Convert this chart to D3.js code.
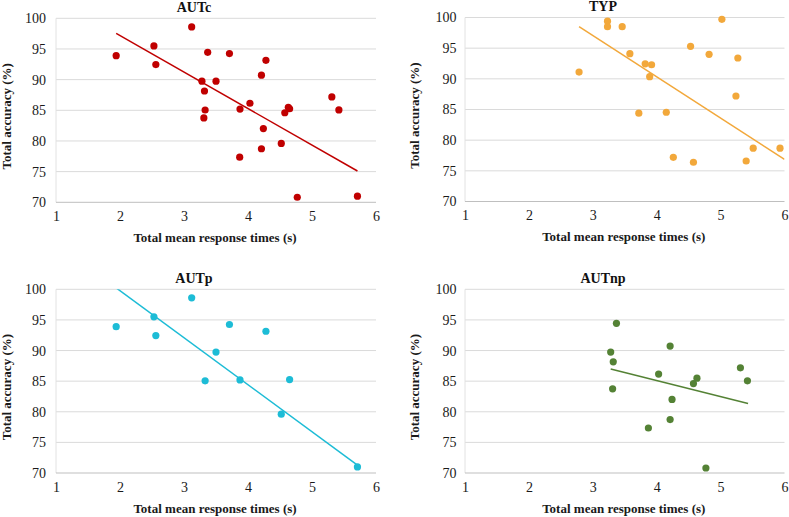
<!DOCTYPE html>
<html>
<head>
<meta charset="utf-8">
<script src="https://cdn.jsdelivr.net/npm/d3@7"></script>
<style>
  html, body { margin: 0; padding: 0; background: #fff; }
  svg { display: block; }
  svg text { font-family: "Liberation Serif", "Tinos", "Times New Roman", "DejaVu Serif", serif; }
</style>
</head>
<body>
<svg id="chart" width="789" height="517"></svg>
<script>
// ---- data ----
const xTicks = [1, 2, 3, 4, 5, 6];
const yTicks = [70, 75, 80, 85, 90, 95, 100];
const xLabel = "Total mean response times (s)";
const yLabel = "Total accuracy (%)";

const autpX = [1.94, 2.53, 2.56, 3.12, 3.50, 3.33, 3.71, 3.875, 4.28, 4.65, 4.52, 5.71];
const autpY = [93.9, 95.5, 92.45, 98.6, 89.75, 85.05, 94.25, 85.2, 93.15, 85.25, 79.6, 71.0];

const autnpX = [3.28, 3.32, 3.31, 3.37, 3.87, 4.03, 4.21, 4.24, 4.21, 4.575, 4.63, 4.77, 5.31, 5.42];
const autnpY = [89.75, 88.15, 83.75, 94.45, 77.35, 86.15, 90.72, 82.02, 78.73, 84.6, 85.48, 70.82, 87.18, 85.06];

const autcX = autpX.concat(autnpX);
const autcY = autpY.concat(autnpY);

const typX = [2.785, 3.23, 3.23, 3.46, 3.58, 3.72, 3.82, 3.92, 3.89, 4.15, 4.26, 4.575, 4.53, 4.82, 5.02, 5.27, 5.24, 5.40, 5.51, 5.93];
const typY = [91.1, 99.4, 98.5, 98.5, 94.1, 84.4, 92.45, 92.3, 90.35, 84.55, 77.2, 76.4, 95.3, 94.0, 99.7, 93.4, 87.2, 76.6, 78.7, 78.7];

// trendline endpoints (x, y)
const trendAUTcX = [1.94, 5.71], trendAUTcY = [97.55, 75.1];
const trendTYPX = [2.785, 6.0], trendTYPY = [98.53, 76.85];
const trendAUTpX = [1.94, 5.71], trendAUTpY = [100.23, 71.3];
const trendAUTnpX = [3.28, 5.43], trendAUTnpY = [86.98, 81.35];

// ---- layout ----
const FONT = "'Liberation Serif', 'Tinos', 'Times New Roman', 'DejaVu Serif', serif";
const panels = [
  { title: "AUTc", xs: autcX, ys: autcY, tx: trendAUTcX, ty: trendAUTcY, color: "#C00000",
    left: 56, right: 376, top: 18.3, bottom: 202.3, titleX: 194, yTitleX: 8.5, tickX: 46 },
  { title: "TYP", xs: typX, ys: typY, tx: trendTYPX, ty: trendTYPY, color: "#F2A83B",
    left: 465, right: 784.5, top: 17.5, bottom: 201.5, titleX: 603, yTitleX: 416, tickX: 456.5 },
  { title: "AUTp", xs: autpX, ys: autpY, tx: trendAUTpX, ty: trendAUTpY, color: "#1DBCD6",
    left: 56, right: 376, top: 289.3, bottom: 473, titleX: 194, yTitleX: 8.5, tickX: 46 },
  { title: "AUTnp", xs: autnpX, ys: autnpY, tx: trendAUTnpX, ty: trendAUTnpY, color: "#548235",
    left: 465, right: 784.5, top: 289.3, bottom: 473, titleX: 603, yTitleX: 416, tickX: 456.5 }
];

const svg = d3.select("#chart");

panels.forEach((p, i) => {
  const x = d3.scaleLinear().domain([1, 6]).range([p.left, p.right]);
  const y = d3.scaleLinear().domain([70, 100]).range([p.bottom, p.top]);
  const g = svg.append("g");

  const clipId = "clip" + i;
  svg.append("clipPath").attr("id", clipId)
    .append("rect").attr("x", p.left).attr("y", p.top)
    .attr("width", p.right - p.left).attr("height", p.bottom - p.top);

  // gridlines
  g.append("g").selectAll("line").data(yTicks.filter(t => t > 70)).join("line")
    .attr("x1", p.left).attr("x2", p.right)
    .attr("y1", d => y(d)).attr("y2", d => y(d))
    .attr("stroke", "#DADADA").attr("stroke-width", 1);
  // faint vertical axis line
  g.append("line").attr("x1", p.left).attr("x2", p.left)
    .attr("y1", p.top).attr("y2", p.bottom)
    .attr("stroke", "#E2E2E2").attr("stroke-width", 1);
  // bottom axis line
  g.append("line").attr("x1", p.left).attr("x2", p.right)
    .attr("y1", p.bottom).attr("y2", p.bottom)
    .attr("stroke", "#BFBFBF").attr("stroke-width", 1);

  // axes (labels only)
  const xa = g.append("g").attr("transform", `translate(0,${p.bottom})`)
    .call(d3.axisBottom(x).tickValues(xTicks).tickSize(0).tickPadding(9).tickFormat(d3.format("d")));
  const ya = g.append("g").attr("transform", `translate(${p.tickX},0)`)
    .call(d3.axisLeft(y).tickValues(yTicks).tickSize(0).tickPadding(0).tickFormat(d3.format("d")));
  [xa, ya].forEach(a => {
    a.attr("font-family", FONT).attr("font-size", 14);
    a.select(".domain").remove();
    a.selectAll("text").attr("font-size", 14).attr("fill", "#1a1a1a")
      .attr("font-family", FONT);
  });

  // trendline
  const td = p.tx.map((v, k) => [v, p.ty[k]]);
  g.append("path").datum(td)
    .attr("clip-path", `url(#${clipId})`)
    .attr("d", d3.line().x(d => x(d[0])).y(d => y(d[1])))
    .attr("fill", "none").attr("stroke", p.color).attr("stroke-width", 1.5);

  // points
  const pts = p.xs.map((v, k) => [v, p.ys[k]]);
  g.append("g").selectAll("circle").data(pts).join("circle")
    .attr("cx", d => x(d[0])).attr("cy", d => y(d[1])).attr("r", 3.6)
    .attr("fill", p.color);

  // titles
  g.append("text").attr("x", p.titleX).attr("y", p.top - 9.5)
    .attr("text-anchor", "middle").attr("dominant-baseline", "middle")
    .attr("font-family", FONT)
    .attr("font-weight", "bold").attr("font-size", 14).attr("fill", "#111")
    .text(p.title);
  g.append("text").attr("x", (p.left + p.right) / 2 - 1).attr("y", p.bottom + 37)
    .attr("text-anchor", "middle").attr("dominant-baseline", "middle")
    .attr("font-family", FONT)
    .attr("font-weight", "bold").attr("font-size", 13).attr("fill", "#1a1a1a")
    .text(xLabel);
  const cy = (p.top + p.bottom) / 2 + 6;
  g.append("text").attr("transform", `translate(${p.yTitleX},${cy}) rotate(-90)`)
    .attr("text-anchor", "middle").attr("dominant-baseline", "middle")
    .attr("font-family", FONT)
    .attr("font-weight", "bold").attr("font-size", 13).attr("fill", "#1a1a1a")
    .text(yLabel);
});
</script>
</body>
</html>
